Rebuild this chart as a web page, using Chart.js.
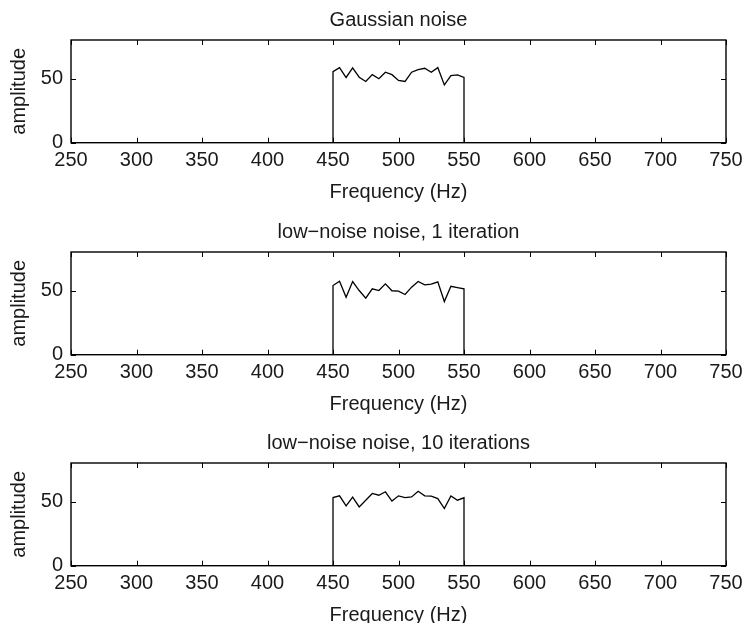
<!DOCTYPE html>
<html>
<head>
<meta charset="utf-8">
<script src="https://cdn.jsdelivr.net/npm/chart.js@4.4.0/dist/chart.umd.min.js"></script>
<style>
  html, body { margin: 0; padding: 0; background: #fff; overflow: hidden; }
  .panel { position: absolute; left: 0; width: 744px; height: 211px; }
</style>
</head>
<body>
<div class="panel" style="top:0px"><canvas id="c1"></canvas></div>
<div class="panel" style="top:212px"><canvas id="c2"></canvas></div>
<div class="panel" style="top:423px"><canvas id="c3"></canvas></div>
<script>
// frequency bins (Hz) inside the band
const freqs = [450, 455, 460, 465, 470, 475, 480, 485, 490, 495, 500,
               505, 510, 515, 520, 525, 530, 535, 540, 545, 550];

const gaussian = [55.4, 58.5, 50.8, 58.3, 51.0, 47.7, 53.0, 49.8, 54.9, 53.0, 48.5,
                  47.7, 54.9, 57.0, 58.0, 54.9, 58.5, 45.0, 52.3, 52.8, 50.8];
const lowNoise1 = [53.9, 57.2, 44.8, 57.0, 50.0, 44.0, 51.3, 50.0, 55.2, 49.8, 49.5,
                   46.9, 52.6, 57.0, 54.4, 54.9, 56.8, 41.4, 53.3, 52.3, 51.3];
const lowNoise10 = [53.1, 54.4, 46.6, 53.4, 45.8, 51.0, 56.3, 54.9, 57.6, 50.3, 54.4,
                    53.1, 53.6, 58.0, 54.4, 54.2, 52.3, 44.5, 54.4, 51.0, 52.9];

const titles = ['Gaussian noise', 'low\u2212noise noise, 1 iteration', 'low\u2212noise noise, 10 iterations'];
const xRange = [250, 750];
const xTicks = [250, 300, 350, 400, 450, 500, 550, 600, 650, 700, 750];
const yRange = [0, 80];
const yTicks = [0, 50];

const FONT = "'Liberation Sans', Arial, Helvetica, sans-serif";
const INK = '#1a1a1a';

// box round the plot area with inward ticks, matlab style
const framePlugin = {
  id: 'frame',
  afterDraw(chart) {
    const { ctx, chartArea: a, scales } = chart;
    ctx.save();
    ctx.strokeStyle = '#000';
    ctx.lineWidth = 1.4;
    ctx.strokeRect(a.left, a.top, a.right - a.left, a.bottom - a.top);
    ctx.lineWidth = 1;
    ctx.beginPath();
    xTicks.forEach((v) => {
      const px = Math.round(scales.x.getPixelForValue(v)) + 0.5;
      ctx.moveTo(px, a.bottom); ctx.lineTo(px, a.bottom - 5);
      ctx.moveTo(px, a.top); ctx.lineTo(px, a.top + 5);
    });
    yTicks.forEach((v) => {
      const py = Math.round(scales.y.getPixelForValue(v)) + 0.5;
      ctx.moveTo(a.left, py); ctx.lineTo(a.left + 5, py);
      ctx.moveTo(a.right, py); ctx.lineTo(a.right - 5, py);
    });
    ctx.stroke();
    ctx.restore();
  }
};

function spectrum(values) {
  // zero outside the band, vertical edges at both ends
  const pts = [{ x: xRange[0], y: 0 }, { x: freqs[0], y: 0 }];
  freqs.forEach((f, i) => pts.push({ x: f, y: values[i] }));
  pts.push({ x: freqs[freqs.length - 1], y: 0 }, { x: xRange[1], y: 0 });
  return pts;
}

function makeChart(id, title, values) {
  return new Chart(document.getElementById(id), {
    type: 'line',
    data: {
      datasets: [{
        data: spectrum(values),
        borderColor: '#000',
        borderWidth: 1.3,
        pointRadius: 0,
        tension: 0,
        fill: false,
        xAxisID: 'x',
        yAxisID: 'y',
      }],
    },
    options: {
      responsive: true,
      maintainAspectRatio: false,
      animation: false,
      layout: { padding: 0 },
      plugins: {
        legend: { display: false },
        tooltip: { enabled: false },
      },
      scales: {
        x: {
          type: 'linear',
          min: xRange[0],
          max: xRange[1],
          afterBuildTicks: (s) => { s.ticks = xTicks.map((v) => ({ value: v })); },
          afterFit: (s) => { s.height = 68.3; s.paddingLeft = 0; s.paddingRight = 18; },
          grid: { display: false, drawTicks: false },
          border: { display: false },
          ticks: { color: INK, font: { family: FONT, size: 20 }, padding: 6, maxRotation: 0, autoSkip: false },
          title: {
            display: true,
            text: 'Frequency (Hz)',
            color: INK,
            font: { family: FONT, size: 20 },
            padding: { top: 0, bottom: 7 },
          },
        },
        // top axis only carries the panel title, centred over the plot area
        x2: {
          type: 'linear',
          position: 'top',
          min: xRange[0],
          max: xRange[1],
          afterFit: (s) => { s.height = 40; s.paddingLeft = 0; s.paddingRight = 18; },
          grid: { display: false, drawTicks: false },
          border: { display: false },
          ticks: { display: false },
          title: {
            display: true,
            text: title,
            color: INK,
            font: { family: FONT, size: 20 },
            padding: { top: 8, bottom: 0 },
          },
        },
        y: {
          min: yRange[0],
          max: yRange[1],
          afterBuildTicks: (s) => { s.ticks = yTicks.map((v) => ({ value: v })); },
          afterFit: (s) => { s.width = 71; },
          grid: { display: false, drawTicks: false },
          border: { display: false },
          ticks: { color: INK, font: { family: FONT, size: 20 }, padding: 8 },
          title: {
            display: true,
            text: 'amplitude',
            color: INK,
            font: { family: FONT, size: 20 },
            padding: { top: 7, bottom: 0 },
          },
        },
      },
    },
    plugins: [framePlugin],
  });
}

makeChart('c1', titles[0], gaussian);
makeChart('c2', titles[1], lowNoise1);
makeChart('c3', titles[2], lowNoise10);
</script>
</body>
</html>
